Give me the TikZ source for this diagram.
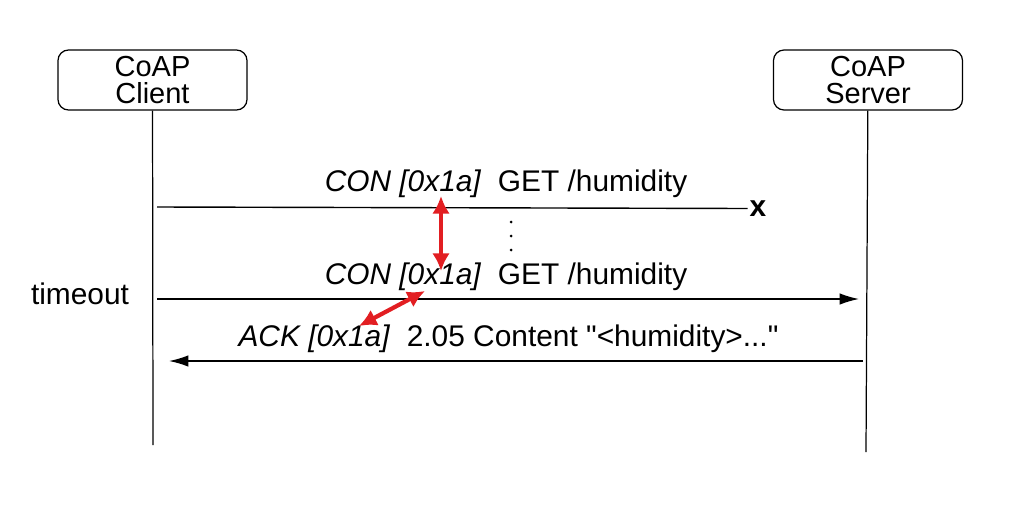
\documentclass[tikz,border=0pt]{standalone}
\usepackage{fontspec}
\setmainfont{Liberation Sans}
\usetikzlibrary{arrows.meta,positioning}
\definecolor{markred}{RGB}{226,30,34}

\begin{document}
\begin{tikzpicture}[>={Latex[length=11pt,width=6.5pt]},font=\fontsize{17}{19}\selectfont,
  party/.style={draw,rounded corners=6pt,line width=0.7pt,minimum width=3.78cm,minimum height=1.2cm,align=center,inner sep=2pt,font=\fontsize{16.5}{15.5}\selectfont},
  life/.style={line width=0.7pt},
  msg/.style={line width=0.8pt},
  idlink/.style={<->,markred,line width=2.4pt,>={Latex[length=10pt,width=10pt]}}]
  \useasboundingbox (0,0) rectangle (20.26,-10.36);

  \node [party] (client) at (3.05,-1.6) {CoAP\\Client};
  \node [party] (server) at (17.36,-1.6) {CoAP\\Server};
  \coordinate (clientend) at (3.06,-8.9);
  \coordinate (serverend) at (17.32,-9.04);

  \draw [life] (client) -- (clientend);
  \draw [life] (server) -- (serverend);

  % first request, lost
  \coordinate (c1) at (3.14,-4.14);
  \node [font=\fontsize{17}{19}\selectfont\bfseries,inner sep=1pt] (lost) at (15.16,-4.17) {x};
  \draw [msg] (c1) -- (lost.west);
  \node (req1) at (10.12,-3.68) {\textit{CON [0x1a]}\ \ GET /humidity};

  \foreach \y in {-4.44,-4.72,-5.0}
    \fill (10.22,\y) circle (0.03);

  % retransmission after timeout
  \coordinate (c2) at (3.14,-5.98);
  \coordinate (s2) at (17.18,-5.98);
  \path [->,msg] (c2) edge (s2);
  \node (req2) at (10.12,-5.53) {\textit{CON [0x1a]}\ \ GET /humidity};
  \node (timeout) at (1.6,-5.88) {timeout};

  % piggybacked response
  \coordinate (s3) at (17.26,-7.22);
  \coordinate (c3) at (3.38,-7.22);
  \path [->,msg] (s3) edge (c3);
  \node (resp) at (10.17,-6.78) {\textit{ACK [0x1a]}\ \ 2.05 Content \textquotedbl{}<humidity>...\textquotedbl};

  % same message id
  \coordinate (id1) at (8.82,-3.92);
  \coordinate (id2) at (8.82,-5.42);
  \coordinate (id3) at (8.5,-5.82);
  \coordinate (id4) at (7.18,-6.52);
  \draw [idlink] (id1) -- (id2);
  \draw [idlink] (id3) -- (id4);
\end{tikzpicture}
\end{document}
